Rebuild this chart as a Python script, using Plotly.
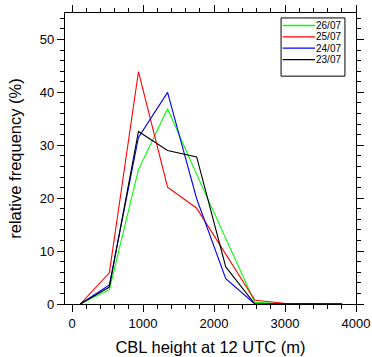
import plotly.graph_objects as go

# Bin centres of CBL height (m)
heights = [115, 525, 935, 1345, 1755, 2165, 2575, 2985, 3395, 3805]

# Relative frequency (%) per day
series_names = ["26/07", "25/07", "24/07", "23/07"]
freq_2607 = [0, 2.7, 25.4, 36.9, 24.5, 12.4, 0.3, 0.05, 0, 0]
freq_2507 = [0, 5.9, 43.9, 22.1, 18.1, 9.5, 0.7, 0.15, 0.05, 0]
freq_2407 = [0, 3.6, 31.5, 40.0, 19.9, 4.8, 0, 0, 0, 0]
freq_2307 = [0, 3.2, 32.6, 29.0, 27.8, 7.0, 0, 0, 0, 0]
series_values = [freq_2607, freq_2507, freq_2407, freq_2307]
series_colors = ["#00ff00", "#ff0000", "#0000ff", "#000000"]

x_ticks = [0, 1000, 2000, 3000, 4000]
y_ticks = [0, 10, 20, 30, 40, 50]

FONT = "Liberation Sans, Arial, Helvetica, sans-serif"

fig = go.Figure()
for name, vals, col in zip(series_names, series_values, series_colors):
    fig.add_trace(go.Scatter(x=heights, y=vals, mode="lines", name=name,
                             line=dict(color=col, width=1.1), showlegend=False))

axis_common = dict(
    showline=True, linecolor="black", linewidth=1.2, mirror="ticks",
    ticks="outside", ticklen=7, tickwidth=1, tickcolor="black",
    showgrid=False, zeroline=False, automargin=False,
    tickfont=dict(family=FONT, size=13, color="black"),
)

fig.update_xaxes(range=[-100, 4000], tickvals=x_ticks,
                 ticktext=[str(v) for v in x_ticks],
                 minor=dict(dtick=200, tick0=0, ticklen=4, ticks="outside",
                            tickcolor="black", tickwidth=1, showgrid=False),
                 title=dict(text="CBL height at 12 UTC (m)",
                            font=dict(family=FONT, size=16.5, color="black"),
                            standoff=11),
                 **axis_common)
fig.update_yaxes(range=[0, 55], tickvals=y_ticks,
                 ticktext=[str(v) for v in y_ticks],
                 minor=dict(dtick=2, tick0=0, ticklen=4, ticks="outside",
                            tickcolor="black", tickwidth=1, showgrid=False),
                 title=dict(text="relative frequency (%)",
                            font=dict(family=FONT, size=16.5, color="black"),
                            standoff=14),
                 **axis_common)

# Custom compact legend box (paper coordinates)
lg_left, lg_right, lg_top, lg_bottom = 0.7425, 0.962, 0.983, 0.783
shapes = []
annotations = []
row_y = [0.957, 0.918, 0.879, 0.840]
for name, col, yy in zip(series_names, series_colors, row_y):
    shapes.append(dict(type="line", xref="paper", yref="paper",
                       x0=0.748, x1=0.859, y0=yy, y1=yy,
                       line=dict(color=col, width=1.3), layer="above"))
    annotations.append(dict(xref="paper", yref="paper", x=0.859, y=yy,
                            text=name, showarrow=False, xanchor="left",
                            yanchor="middle", xshift=0, borderpad=0,
                            font=dict(family=FONT, size=10, color="black")))
shapes.append(dict(type="rect", xref="paper", yref="paper",
                   x0=lg_left, x1=lg_right, y0=lg_bottom, y1=lg_top,
                   line=dict(color="black", width=1), fillcolor="rgba(0,0,0,0)",
                   layer="above"))

fig.update_layout(
    width=372, height=357,
    margin=dict(l=65, r=16, t=13, b=53),
    paper_bgcolor="white", plot_bgcolor="white",
    shapes=shapes, annotations=annotations,
    showlegend=False,
)

fig.write_html("out.html", config={"displayModeBar": False},
               post_script="document.body.style.margin='0';document.body.style.padding='0';")
